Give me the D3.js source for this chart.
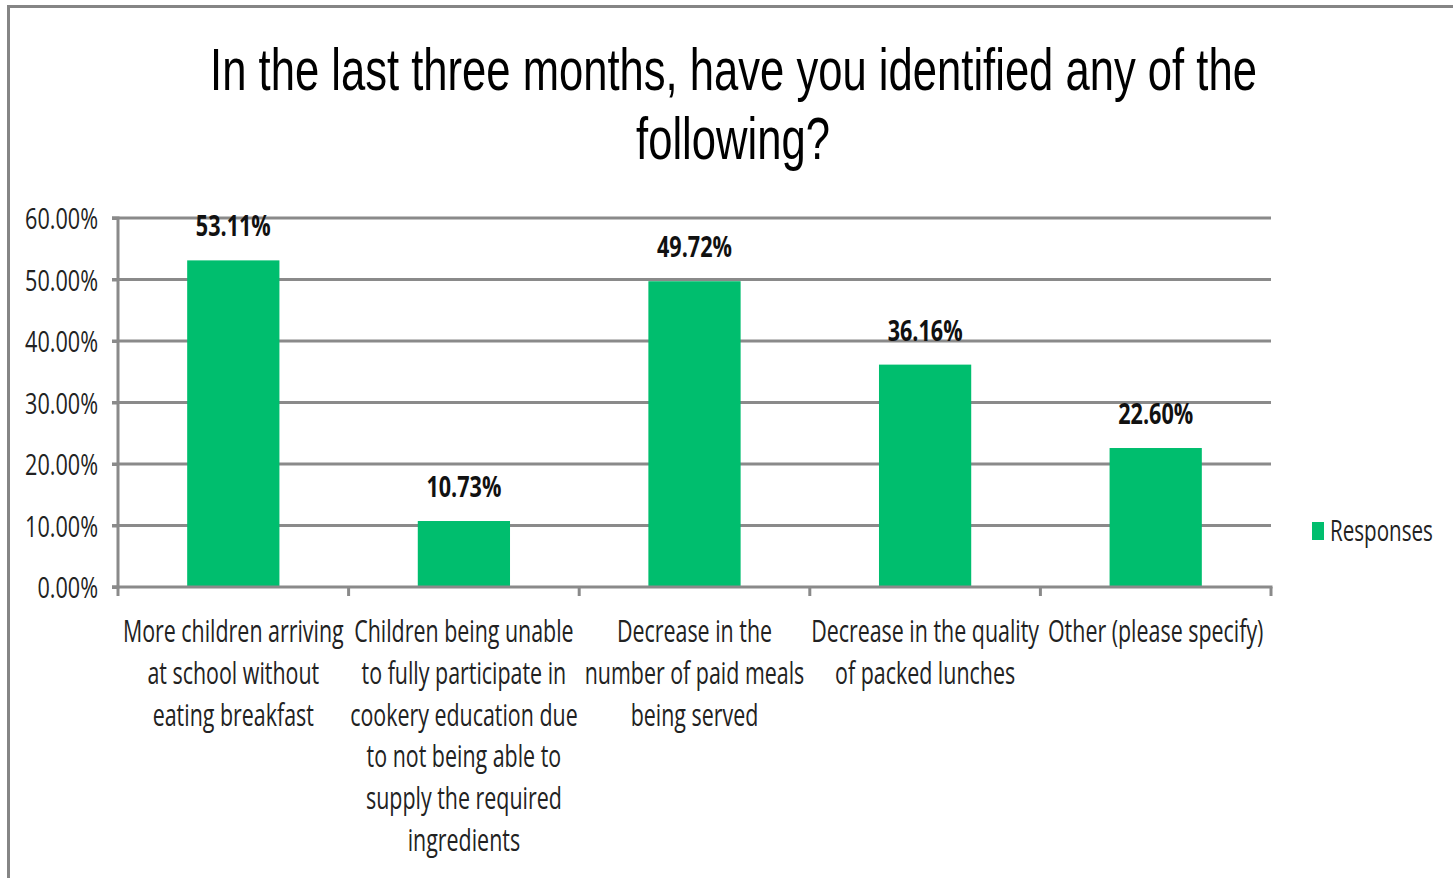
<!DOCTYPE html>
<html><head><meta charset="utf-8">
<script src="https://cdn.jsdelivr.net/npm/d3@7"></script>
<style>
html,body{margin:0;padding:0;background:#fff;}
svg{display:block;}
</style></head>
<body>
<svg id="chart" width="1453" height="878"></svg>
<script>
const titleLines = ["In the last three months, have you identified any of the", "following?"];
const categories = [
  ["More children arriving", "at school without", "eating breakfast"],
  ["Children being unable", "to fully participate in", "cookery education due", "to not being able to", "supply the required", "ingredients"],
  ["Decrease in the", "number of paid meals", "being served"],
  ["Decrease in the quality", "of packed lunches"],
  ["Other (please specify)"]
];
const values = [53.11, 10.73, 49.72, 36.16, 22.60];
const valueLabels = ["53.11%", "10.73%", "49.72%", "36.16%", "22.60%"];
const yTicks = [0, 10, 20, 30, 40, 50, 60];
const yTickLabels = ["0.00%", "10.00%", "20.00%", "30.00%", "40.00%", "50.00%", "60.00%"];
const seriesName = "Responses";

const svg = d3.select("#chart");
const GRID = "#8a8a8a", GREEN = "#00BE6E";
const sansFont = "'Open Sans', 'Noto Sans', sans-serif";
const titleFont = "'Liberation Sans', Arial, sans-serif";

// chart border
svg.append("path").attr("d", "M8.5,878 L8.5,6.5 L1453,6.5").attr("fill", "none")
  .attr("stroke", "#858585").attr("stroke-width", 3);

const plot = {left: 118, right: 1271, top: 218, bottom: 587};
const x = d3.scaleBand().domain(d3.range(categories.length)).range([plot.left, plot.right]).paddingInner(0.6).paddingOuter(0.3);
const xb = d3.scaleBand().domain(d3.range(categories.length)).range([plot.left, plot.right]);
const y = d3.scaleLinear().domain([0, 60]).range([plot.bottom, plot.top]);

// helper: condensed text
function ctext(g, str, px, py, opts) {
  const t = g.append("text")
    .attr("font-family", opts.font || sansFont)
    .attr("font-size", opts.size)
    .attr("font-weight", opts.weight || "normal")
    .attr("fill", opts.fill || "#000")
    .attr("text-anchor", opts.anchor || "middle")
    .text(str);
  t.attr("transform", `translate(${px},${py}) scale(${opts.sx},1)`);
  return t;
}
function measure(str, size, font, weight) {
  const t = svg.append("text").attr("font-family", font).attr("font-size", size).attr("font-weight", weight || "normal").text(str);
  const w = t.node().getComputedTextLength();
  t.remove();
  return w;
}

// gridlines
const gridG = svg.append("g");
gridG.selectAll("line").data(yTicks.filter(d => d > 0)).join("line")
  .attr("x1", plot.left - 6).attr("x2", plot.right)
  .attr("y1", d => y(d)).attr("y2", d => y(d))
  .attr("stroke", GRID).attr("stroke-width", 3);

// y axis
const yAxis = svg.append("g").attr("transform", `translate(${plot.left},0)`)
  .call(d3.axisLeft(y).tickValues(yTicks).tickSize(6).tickFormat(""));
yAxis.select(".domain").attr("stroke", GRID).attr("stroke-width", 3).attr("d", `M-6,${plot.top}H0V${plot.bottom}H-6`);
yAxis.selectAll(".tick line").attr("stroke", GRID).attr("stroke-width", 3);

const tickSx = 73 / measure("60.00%", 30, sansFont);
yTicks.forEach((v, i) => {
  ctext(svg, yTickLabels[i], 98, y(v) + 11, {size: 30, sx: tickSx, anchor: "end", fill: "#222"});
});

// bars
svg.append("g").selectAll("rect").data(values).join("rect")
  .attr("x", (d, i) => x(i)).attr("width", x.bandwidth())
  .attr("y", d => y(d)).attr("height", d => y(0) - y(d))
  .attr("fill", GREEN);

// x axis
const xAxisG = svg.append("g");
xAxisG.append("line").attr("x1", plot.left - 6).attr("x2", plot.right + 1.5)
  .attr("y1", plot.bottom).attr("y2", plot.bottom).attr("stroke", GRID).attr("stroke-width", 3);
const bounds = d3.range(categories.length).map(i => xb(i)).concat([plot.right]);
xAxisG.selectAll("line.tk").data(bounds).join("line").attr("class", "tk")
  .attr("x1", d => d).attr("x2", d => d).attr("y1", plot.bottom).attr("y2", plot.bottom + 9)
  .attr("stroke", GRID).attr("stroke-width", 3);

// category labels
const catSx = 221 / measure("More children arriving", 31, sansFont);
categories.forEach((lines, i) => {
  const cx = xb(i) + xb.bandwidth() / 2;
  lines.forEach((ln, j) => {
    ctext(svg, ln, cx, 642 + j * 41.8, {size: 31, sx: catSx, fill: "#222"});
  });
});

// data labels
const dlSx = 75 / measure("53.11%", 29, sansFont, "bold");
values.forEach((v, i) => {
  ctext(svg, valueLabels[i], x(i) + x.bandwidth() / 2, y(v) - 24, {size: 29, weight: "bold", sx: dlSx, fill: "#111"});
});

// legend
svg.append("rect").attr("x", 1312).attr("y", 522).attr("width", 12).attr("height", 18).attr("fill", GREEN);
const legSx = 103 / measure(seriesName, 30, sansFont);
ctext(svg, seriesName, 1330, 541, {size: 30, sx: legSx, anchor: "start", fill: "#222"});

// title
const titleSx = 1047 / measure(titleLines[0], 60, titleFont);
ctext(svg, titleLines[0], 733.5, 90, {size: 60, sx: titleSx, font: titleFont});
ctext(svg, titleLines[1], 733, 159, {size: 60, sx: titleSx, font: titleFont});
</script>
</body></html>
